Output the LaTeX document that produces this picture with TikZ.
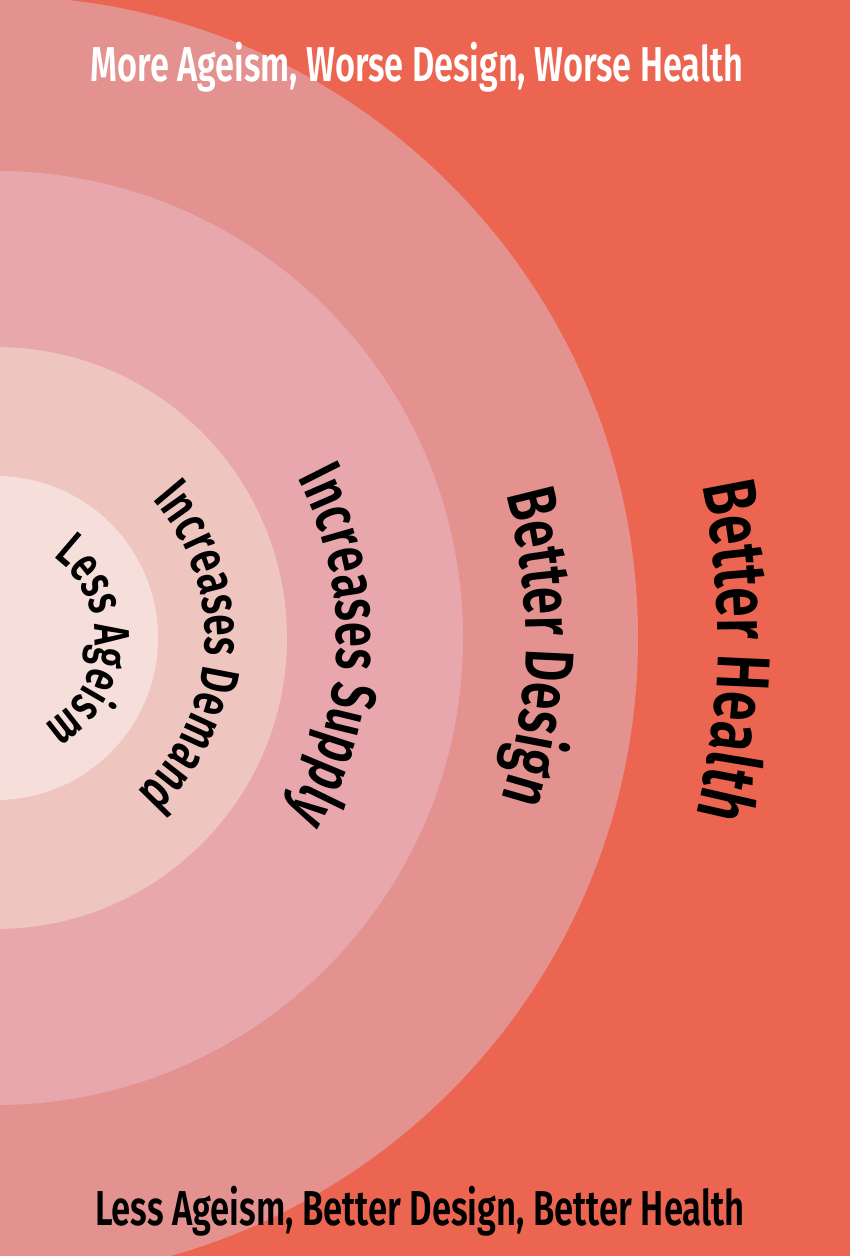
\documentclass[tikz,border=0pt]{standalone}
\usepackage{fontspec}
\setmainfont{Fira Sans}[FakeStretch=0.72, BoldFont={* SemiBold}]
\usetikzlibrary{decorations.text}
\definecolor{bgred}{HTML}{EC6551}
\definecolor{ringA}{HTML}{E3928F}
\definecolor{ringB}{HTML}{E8A7AD}
\definecolor{ringC}{HTML}{EFC5C0}
\definecolor{ringD}{HTML}{F6DEDA}
\tikzset{
  arclabel/.style 2 args={decorate, decoration={text along path, text align=center,
      text color=black, text={|\fontsize{#1}{#1}\selectfont\bfseries|#2}}},
  bandtext/.style={anchor=base, font=\fontsize{49}{50}\selectfont\bfseries},
}
\begin{document}
\begin{tikzpicture}[x=1pt,y=1pt]
\useasboundingbox (0,0) rectangle (850,1256);
\clip (0,0) rectangle (850,1256);
\fill[bgred] (0,0) rectangle (850,1256);
\coordinate (C) at (-4,618);
\fill[ringA] (C) circle[radius=642pt];
\fill[ringB] (C) circle[radius=467pt];
\fill[ringC] (C) circle[radius=291pt];
\fill[ringD] (C) circle[radius=162pt];
\begin{scope}[shift={(C)}]
  \path[arclabel={50}{Less Ageism}] (85:99pt) arc[start angle=85,end angle=-91,radius=99pt];
  \path[arclabel={54}{Increases Demand}] (80:209pt) arc[start angle=80,end angle=-86,radius=209pt];
  \path[arclabel={63}{Increases Supply}] (60:341pt) arc[start angle=60,end angle=-63,radius=341pt];
  \path[arclabel={69}{Better Design}] (40:530pt) arc[start angle=40,end angle=-42,radius=530pt];
  \path[arclabel={75}{Better Health}] (30:722pt) arc[start angle=30,end angle=-32,radius=722pt];
\end{scope}
\node[bandtext, text=white] (toptitle) at (417,1174) {\scalebox{0.973}[1]{More Ageism, Worse Design, Worse Health}};
\node[bandtext, text=black] (bottomtitle) at (420,30) {\scalebox{0.982}[1]{Less Ageism, Better Design, Better Health}};
\end{tikzpicture}
\end{document}
